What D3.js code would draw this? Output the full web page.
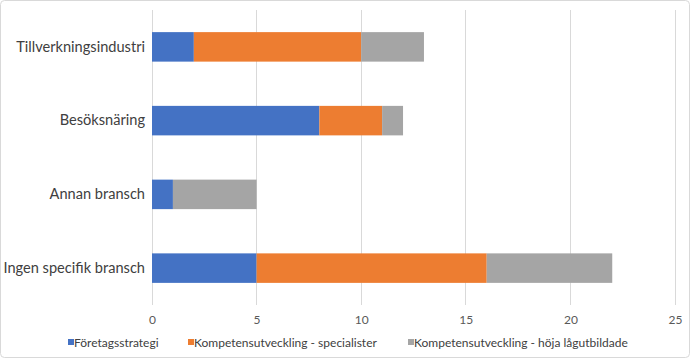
<!DOCTYPE html>
<html><head><meta charset="utf-8">
<script src="https://cdn.jsdelivr.net/npm/d3@7"></script>
<style>body{margin:0;background:#fff;} text{font-family:Lato,"Open Sans",sans-serif;}</style>
</head><body><svg id="c" width="690" height="358"></svg>
<script>
const categories = ["Tillverkningsindustri","Besöksnäring","Annan bransch","Ingen specifik bransch"];
const seriesNames = ["Företagsstrategi","Kompetensutveckling - specialister","Kompetensutveckling - höja lågutbildade"];
const foretagsstrategi = [2, 8, 1, 5];
const specialister = [8, 3, 0, 11];
const lagutbildade = [3, 1, 4, 6];
const xTicks = [0,5,10,15,20,25];
const colors = ["#4472C4","#ED7D31","#A5A5A5"];

const svg = d3.select("#c");
svg.append("rect").attr("x",0.5).attr("y",0.5).attr("width",689).attr("height",357).attr("rx",4)
  .attr("fill","#fff").attr("stroke","#d9d9d9");

const x = d3.scaleLinear().domain([0,25]).range([152,675]);
const y = d3.scaleBand().domain(categories).range([10,305]).paddingInner(0.6).paddingOuter(0.3);

svg.append("g").selectAll("line").data(xTicks).join("line")
  .attr("x1",d=>x(d)).attr("x2",d=>x(d)).attr("y1",10).attr("y2",305)
  .attr("stroke","#d9d9d9").attr("stroke-width",1).attr("shape-rendering","crispEdges");

const rows = categories.map((c,i)=>({cat:c, vals:[foretagsstrategi[i],specialister[i],lagutbildade[i]]}));
const stacked = d3.stack().keys([0,1,2]).value((d,k)=>d.vals[k])(rows);
svg.append("g").selectAll("g").data(stacked).join("g").attr("fill",(d,i)=>colors[i])
  .selectAll("rect").data(d=>d).join("rect")
  .attr("x",d=>x(d[0])).attr("width",d=>x(d[1])-x(d[0]))
  .attr("y",d=>y(d.data.cat)).attr("height",y.bandwidth());

const xa = svg.append("g").attr("transform","translate(0,305)")
  .call(d3.axisBottom(x).tickValues(xTicks).tickSize(0).tickPadding(10));
xa.select(".domain").remove();
xa.selectAll("text").attr("fill","#595959").style("font-size","12px").style("font-family","Lato, sans-serif");

const ya = svg.append("g").attr("transform","translate(152,0)")
  .call(d3.axisLeft(y).tickSize(0).tickPadding(7));
ya.select(".domain").remove();
ya.selectAll("text").attr("fill","#404040").style("font-size","14.6px").style("font-family","Lato, sans-serif");

const legendX = [68,188,408];
const lg = svg.append("g").selectAll("g").data(seriesNames).join("g")
  .attr("transform",(d,i)=>`translate(${legendX[i]},343)`);
lg.append("rect").attr("x",0).attr("y",-4).attr("width",6).attr("height",6).attr("fill",(d,i)=>colors[i]);
lg.append("text").attr("x",6).attr("y",0).attr("dy","0.35em").text(d=>d)
  .attr("fill","#404040").style("font-size","12px");
</script></body></html>
